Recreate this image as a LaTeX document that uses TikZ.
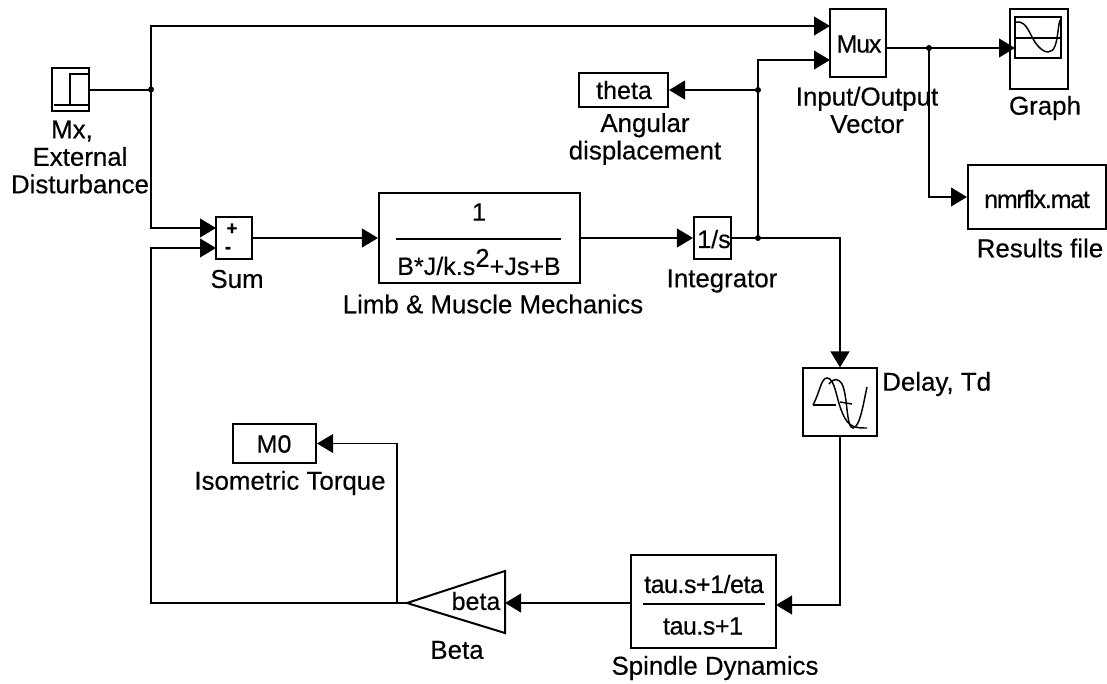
\documentclass[tikz,border=0pt]{standalone}
\usepackage{fontspec}
\setmainfont[RawFeature={embolden=0.4}]{Liberation Sans}
\usetikzlibrary{arrows.meta,calc}
\tikzset{
  x=0.75pt,y=-0.75pt,
  blk/.style={draw=black,line width=1.5pt,fill=white,inner sep=0pt,minimum width=#1},
  lbl/.style={inner sep=0pt,align=center,text=black,font=\fontsize{19.4}{20.6}\selectfont},
  txt/.style={inner sep=0pt,text=black,font=\fontsize{18.8}{20.3}\selectfont},
  wire/.style={draw=black,line width=1.5pt},
  thin wire/.style={draw=black,line width=1.1pt},
  arr/.style={wire,-{Triangle[length=12pt,width=14pt]}},
  icon/.style={draw=black,line width=1.1pt},
  dotj/.style={fill=black,circle,inner sep=0pt,minimum size=4.5pt}
}
\begin{document}
\begin{tikzpicture}
\useasboundingbox (0,0) rectangle (1107,683);
% blocks
\node[blk=27.8pt,minimum height=32.3pt] (step) at (70.5,89.5) {};
\node[blk=27pt,minimum height=32pt] (sum) at (234,238) {};
\node[blk=150.8pt,minimum height=67.5pt] (limb) at (479.5,238) {};
\node[blk=27.8pt,minimum height=32pt] (integ) at (712.5,238) {};
\node[blk=42pt,minimum height=51pt] (mux) at (858,43) {};
\node[blk=43.5pt,minimum height=60pt] (graph) at (1039,49) {};
\node[blk=66.8pt,minimum height=25.5pt] (theta) at (623.5,90) {};
\node[blk=103.5pt,minimum height=48pt] (file) at (1037,197) {};
\node[blk=55.5pt,minimum height=50.3pt] (delay) at (840,402) {};
\node[blk=108.8pt,minimum height=69.8pt] (spindle) at (703.5,601.5) {};
\node[blk=62.3pt,minimum height=29.3pt] (m0) at (274.5,443.5) {};
% gain triangle
\coordinate (betaTip) at (407,603);
\coordinate (betaIn) at (505,603);
\draw[icon,line width=1.5pt,line join=miter] (betaTip) -- (505,571) -- (505,633) -- cycle;
% junctions and ports
\coordinate (jStep) at (151,89.5);
\coordinate (sumPlus) at (216,228);
\coordinate (sumMinus) at (216,248);
\coordinate (muxA) at (830,26);
\coordinate (muxB) at (830,60);
\coordinate (muxOut) at (886,48);
\coordinate (jMux) at (929,48);
\coordinate (jInt) at (758,238);
\coordinate (jTheta) at (758,90);
\coordinate (topL) at (151,26);
\coordinate (botL) at (151,603);
\coordinate (jBeta) at (397,603);
\coordinate (bendD) at (840,238);
\coordinate (spIn) at (776,605);
\coordinate (spOut) at (631,603);
\coordinate (delayB) at (840,436);
% connectors
\draw[wire] (step.east) -- (jStep);
\draw[arr] (jStep) -- (topL) -- (muxA);
\draw[arr] (jStep) |- (sumPlus);
\draw[arr] (sum.east) -- (limb.west);
\draw[arr] (limb.east) -- (integ.west);
\draw[wire] (integ.east) -- (jInt);
\draw[arr] (jInt) -- (bendD) -- (delay.north);
\draw[arr] (jInt) |- (muxB);
\draw[arr] (jTheta) -- (theta.east);
\draw[wire] (muxOut) -- (jMux);
\draw[arr] (jMux) -- (1015,48);
\draw[arr] (jMux) |- (file.west);
\draw[arr] (delayB) |- (spIn);
\draw[arr] (spOut) -- (betaIn);
\draw[arr] (betaTip) -- (botL) -- (151,248) -- (sumMinus);
\draw[thin wire,-{Triangle[length=12pt,width=14pt]}] (jBeta) |- (m0.east);
\node[dotj] (d1) at (jStep) {};
\node[dotj] (d2) at (jInt) {};
\node[dotj] (d3) at (jTheta) {};
\node[dotj] (d4) at (jMux) {};
% step icon
\draw[icon] (54,105) -- (70,105) -- (70,74) -- (88,74);
\draw[icon] (54,105) -- (88,105);
% sum signs
\node[txt,font=\fontsize{14}{14}\bfseries\selectfont] (plus) at (232,229) {+};
\node[txt,font=\fontsize{14}{14}\bfseries\selectfont] (minus) at (228,250) {-};
% formula
\node[txt] (num) at (479,212) {1};
\node[txt] (den) at (479,262) {B*J/k.s\raisebox{6pt}{\fontsize{19.4}{20}\selectfont 2}+Js+B};
\draw[wire] (396,239) -- (561,239);
% integrator
\node[txt] (int) at (714,239) {1/s};
% mux
\node[txt] (muxt) at (859,44) {\addfontfeature{LetterSpace=-5}Mux};
% graph icon
\draw[icon,line width=1.3pt,fill=white] (1015,17) rectangle (1061,58);
\draw[icon] (1015,38) -- (1061,38);
\draw[icon] (1016,22) .. controls (1028,20) and (1030,38) .. (1038,46) .. controls (1045,54) and (1052,54) .. (1055,46) .. controls (1058,38) and (1058,26) .. (1060,20);
% texts
\node[txt] (tht) at (624,90) {theta};
\node[txt] (filet) at (1037,199) {\addfontfeature{LetterSpace=-5}nmrflx.mat};
\node[txt] (betat) at (476,601) {beta};
\node[txt] (m0t) at (274,444) {M0};
\node[txt] (sp1) at (704,584) {\addfontfeature{LetterSpace=-2}tau.s+1/eta};
\draw[wire] (643,604) -- (765,604);
\node[txt] (sp2) at (703,626) {\addfontfeature{LetterSpace=-2}tau.s+1};
% delay icon
\draw[icon] (813,405) -- (836,405);
\draw[icon] (813,405) .. controls (820,392) and (821,378) .. (827,378) .. controls (835,378) and (836,398) .. (842,412) .. controls (848,428) and (856,428) .. (867,428);
\draw[icon] (829,384) .. controls (834,378) and (838,378) .. (842,384) .. controls (848,396) and (846,428) .. (853,428) .. controls (860,428) and (864,400) .. (867,387);
\draw[icon] (840,402) -- (852,404);
% labels
\node[lbl] (l1) at (80,157) {Mx,\hspace*{12pt}\\External\hspace*{12pt}\\Disturbance};
\node[lbl] (l2) at (237,279) {Sum};
\node[lbl] (l3) at (493,304) {Limb \& Muscle Mechanics};
\node[lbl] (l4) at (722,281) {Integrator};
\node[lbl] (l5) at (645,139) {Angular\\displacement};
\node[lbl] (l6) at (867,110) {Input/Output\\Vector};
\node[lbl] (l7) at (1045,108) {Graph};
\node[lbl] (l8) at (1040,248) {Results file};
\node[lbl,anchor=west] (l9) at (882,384) {Delay, Td};
\node[lbl] (l10) at (290,483) {Isometric Torque};
\node[lbl] (l11) at (457,650) {Beta};
\node[lbl] (l12) at (715,668) {Spindle Dynamics};
\end{tikzpicture}
\end{document}
